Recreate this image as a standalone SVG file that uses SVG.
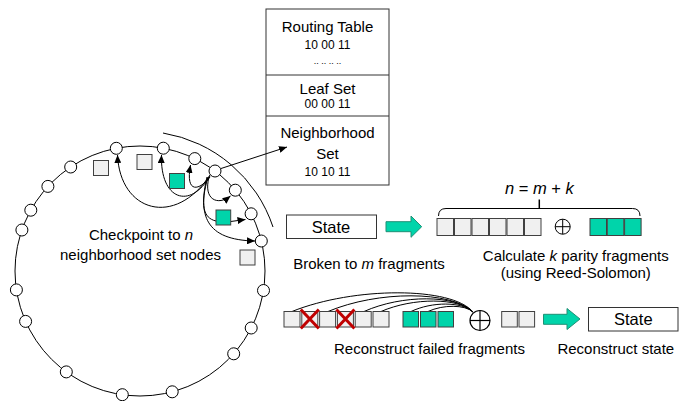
<svg xmlns="http://www.w3.org/2000/svg" width="684" height="401" viewBox="0 0 684 401">
<defs>
<marker id="ah" markerUnits="userSpaceOnUse" markerWidth="8" markerHeight="7" refX="8" refY="3.5" orient="auto">
<path d="M0,0 L8,3.5 L0,7 z" fill="#000"/>
</marker>
<style>
text{font-family:"Liberation Sans",Arial,sans-serif;fill:#000;text-anchor:middle}
.lbl{font-size:15px}
.sm{font-size:12px}
.rn{fill:#fff;stroke:#000;stroke-width:1}
.gs{fill:#f0f0f0;stroke:#404040;stroke-width:1}
.ts{fill:#00d4aa;stroke:#404040;stroke-width:1}
.ln{fill:none;stroke:#000;stroke-width:1}
.ar{fill:none;stroke:#000;stroke-width:1;marker-end:url(#ah)}
.box{fill:#fff;stroke:#333;stroke-width:1}
.blk{fill:#00d4aa;stroke:#1f8f75;stroke-width:1}
.x{stroke:#c00000;stroke-width:3;fill:none}
</style>
</defs>
<rect width="684" height="401" fill="#fff"/>

<!-- routing table -->
<g id="table">
<rect x="266" y="9" width="123" height="176" class="box"/>
<line x1="266" y1="75" x2="389" y2="75" stroke="#333"/>
<line x1="266" y1="116" x2="389" y2="116" stroke="#333"/>
<text class="lbl" x="327.5" y="31.5">Routing Table</text>
<text class="sm" x="327.5" y="48.5">10 00 11</text>
<text x="327.5" y="64" font-size="9">.. .. .. ..</text>
<text class="lbl" x="327.5" y="93.5">Leaf Set</text>
<text class="sm" x="327.5" y="107.5">00 00 11</text>
<text class="lbl" x="327.5" y="137.5">Neighborhood</text>
<text class="lbl" x="327.5" y="158.5">Set</text>
<text class="sm" x="327.5" y="176">10 10 11</text>
</g>

<!-- ring -->
<g id="ring">
<circle cx="140" cy="271" r="125" class="ln"/>
<path d="M163,133 A140,140 0 0 1 273,227" class="ln"/>
</g>

<!-- connectors -->
<g id="connectors">
<path d="M210,175 C175,228 120,212 117.5,155" class="ar"/>
<path d="M210,176 C190,210 160,200 161.5,155" class="ar"/>
<path d="M210,177 C200,190 185,195 190.5,165" class="ar"/>
<path d="M209,177 C203,200 218,206 230.5,196" class="ar"/>
<path d="M208,177 C200,205 203,218 216,221" class="ln"/>
<path d="M230.7,221.5 L245.5,219.5" class="ar"/>
<path d="M207,177 C198,215 205,240 255,241" class="ar"/>
<path d="M221,168.5 L287,147" class="ar"/>
<!-- reconstruction curves -->
<path d="M292,311.5 C354,286.5 452,286.5 473,312" class="ln"/>
<path d="M328,311.5 C378,290.5 451,290.5 473,312" class="ln"/>
<path d="M364,311.5 C402,294.5 456,294.5 473,312" class="ln"/>
<path d="M381,311.5 C413,297.5 459,297.5 473,312" class="ln"/>
<path d="M411,311.5 C432,301.5 462,301.5 473,312" class="ln"/>
<path d="M428,311.5 C443,304.5 465,304.5 473,312" class="ln"/>
</g>

<!-- ring nodes -->
<g id="n1"><circle cx="116.3" cy="148.3" r="6" class="rn"/></g>
<g id="n2"><circle cx="163.3" cy="148.2" r="6" class="rn"/></g>
<g id="n3"><circle cx="194.8" cy="158.6" r="6" class="rn"/></g>
<g id="n4"><circle cx="215" cy="171" r="6" class="rn"/></g>
<g id="n5"><circle cx="235.3" cy="190.2" r="6" class="rn"/></g>
<g id="n6"><circle cx="251.1" cy="213.8" r="6" class="rn"/></g>
<g id="n7"><circle cx="261.3" cy="241" r="6" class="rn"/></g>
<g id="n8"><circle cx="263.5" cy="290.5" r="6" class="rn"/></g>
<g id="n9"><circle cx="251.2" cy="328" r="6" class="rn"/></g>
<g id="n10"><circle cx="233.7" cy="353.8" r="6" class="rn"/></g>
<g id="n11"><circle cx="172.2" cy="391.8" r="6" class="rn"/></g>
<g id="n12"><circle cx="122.3" cy="394.7" r="6" class="rn"/></g>
<g id="n13"><circle cx="66.3" cy="371.9" r="6" class="rn"/></g>
<g id="n14"><circle cx="25.6" cy="321.4" r="6" class="rn"/></g>
<g id="n15"><circle cx="16.4" cy="289.9" r="6" class="rn"/></g>
<g id="n16"><circle cx="21.9" cy="230" r="6" class="rn"/></g>
<g id="n17"><circle cx="30.8" cy="210.2" r="6" class="rn"/></g>
<g id="n18"><circle cx="47.9" cy="186.4" r="6" class="rn"/></g>
<g id="n19"><circle cx="70.7" cy="167" r="6" class="rn"/></g>

<!-- fragments near ring -->
<g id="ring-fragments">
<rect x="93.5" y="160.5" width="15" height="15" class="gs"/>
<rect x="137" y="154.5" width="15" height="15" class="gs"/>
<rect x="169.5" y="173.5" width="15" height="15" class="ts"/>
<rect x="216" y="210" width="14.7" height="15" class="ts"/>
<rect x="240" y="250" width="15" height="15" class="gs"/>
</g>

<g id="checkpoint-label">
<text class="lbl" x="141" y="240">Checkpoint to <tspan font-style="italic">n</tspan></text>
<text class="lbl" x="140.5" y="259.5">neighborhood set nodes</text>
</g>

<!-- top row -->
<g id="state-top">
<rect x="286.5" y="215" width="90" height="23.5" class="box"/>
<text x="331" y="232.5" font-size="16.5">State</text>
</g>
<g id="arrow-top">
<polygon points="386,221.7 411,221.7 411,216 421.7,226.7 411,237.3 411,231.7 386,231.7" class="blk"/>
</g>
<g id="data-fragments">
<rect x="437" y="218.5" width="16.5" height="17" class="gs"/>
<rect x="454.5" y="218.5" width="16.5" height="17" class="gs"/>
<rect x="472" y="218.5" width="16.5" height="17" class="gs"/>
<rect x="489.5" y="218.5" width="16.5" height="17" class="gs"/>
<rect x="507" y="218.5" width="16.5" height="17" class="gs"/>
<rect x="524.5" y="218.5" width="16.5" height="17" class="gs"/>
</g>
<g id="xor-top">
<circle cx="562.7" cy="226.7" r="7.5" class="ln"/>
<line x1="555.2" y1="226.7" x2="570.2" y2="226.7" stroke="#000"/>
<line x1="562.7" y1="219.2" x2="562.7" y2="234.2" stroke="#000"/>
</g>
<g id="parity-fragments">
<rect x="590" y="218.5" width="16.5" height="17" class="ts"/>
<rect x="607.3" y="218.5" width="16.5" height="17" class="ts"/>
<rect x="624.6" y="218.5" width="16.5" height="17" class="ts"/>
</g>
<g id="brace">
<path d="M438.5,216 Q438.5,208.5 446,208.5 L632.5,208.5 Q640,208.5 640,216" class="ln"/>
<line x1="539.3" y1="208.5" x2="539.3" y2="199.5" stroke="#000" stroke-width="1.5"/>
<text x="539.3" y="193.5" font-size="16.5"><tspan font-style="italic">n</tspan> = <tspan font-style="italic">m</tspan> + <tspan font-style="italic">k</tspan></text>
</g>
<g id="top-labels">
<text class="lbl" x="369" y="268.5">Broken to <tspan font-style="italic">m</tspan> fragments</text>
<text class="lbl" x="575.8" y="260.5">Calculate <tspan font-style="italic">k</tspan> parity fragments</text>
<text class="lbl" x="575.8" y="278">(using Reed-Solomon)</text>
</g>

<!-- bottom row -->
<g id="bottom-fragments">
<rect x="284" y="311.5" width="16" height="15.5" class="gs"/>
<rect x="301.8" y="311.5" width="16" height="15.5" class="gs"/>
<rect x="319.6" y="311.5" width="16" height="15.5" class="gs"/>
<rect x="337.4" y="311.5" width="16" height="15.5" class="gs"/>
<rect x="355.2" y="311.5" width="16" height="15.5" class="gs"/>
<rect x="373" y="311.5" width="16" height="15.5" class="gs"/>
<path d="M300.8,309.5 L318.8,328.5 M318.8,309.5 L300.8,328.5" class="x"/>
<path d="M336.4,309.5 L354.4,328.5 M354.4,309.5 L336.4,328.5" class="x"/>
<rect x="403" y="311.5" width="15.5" height="15.5" class="ts"/>
<rect x="420.5" y="311.5" width="15.5" height="15.5" class="ts"/>
<rect x="438" y="311.5" width="15.5" height="15.5" class="ts"/>
</g>
<g id="xor-bottom">
<circle cx="480" cy="320.5" r="10" fill="#fff" stroke="#000" stroke-width="1.2"/>
<line x1="470" y1="320.5" x2="490" y2="320.5" stroke="#000" stroke-width="1.2"/>
<line x1="480" y1="310.5" x2="480" y2="330.5" stroke="#000" stroke-width="1.2"/>
</g>
<g id="recovered-fragments">
<rect x="501.7" y="311.5" width="15.6" height="15.5" class="gs"/>
<rect x="519" y="311.5" width="15.6" height="15.5" class="gs"/>
</g>
<g id="arrow-bottom">
<polygon points="543.5,314.3 567,314.3 567,308.5 580,319 567,329.5 567,324.3 543.5,324.3" class="blk"/>
</g>
<g id="state-bottom">
<rect x="588.5" y="307.5" width="89.5" height="23.5" class="box"/>
<text x="633.3" y="325" font-size="16.5">State</text>
</g>
<g id="bottom-labels">
<text class="lbl" x="429.5" y="354">Reconstruct failed fragments</text>
<text class="lbl" x="615.8" y="354">Reconstruct state</text>
</g>
</svg>
